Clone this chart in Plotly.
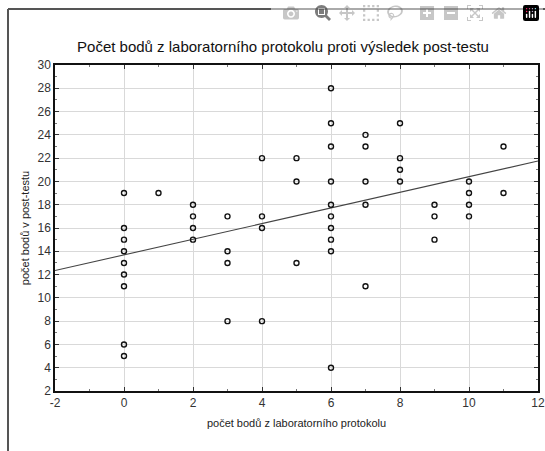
import plotly.graph_objects as go

# Data: lab protocol points (x) vs post-test score (y)
lab_points = [0]*9 + [1] + [2]*4 + [3]*4 + [4]*4 + [5]*3 + [6]*10 + [7]*5 + [8]*4 + [9]*3 + [10]*4 + [11]*2
post_test = ([19, 16, 15, 14, 13, 12, 11, 6, 5] + [19] + [18, 17, 16, 15] + [17, 14, 13, 8]
             + [22, 17, 16, 8] + [22, 20, 13] + [28, 25, 23, 20, 18, 17, 16, 15, 14, 4]
             + [24, 23, 20, 18, 11] + [25, 22, 21, 20] + [18, 17, 15] + [20, 19, 18, 17] + [23, 19])

# Fitted regression line
fit_intercept = 13.69
fit_slope = 0.672
x_range = [-2, 12]
y_range = [2, 30]
x_ticks = [-2, 0, 2, 4, 6, 8, 10, 12]
x_tick_labels = ["-2", "0", "2", "4", "6", "8", "10", "12"]
y_ticks = [2, 4, 6, 8, 10, 12, 14, 16, 18, 20, 22, 24, 26, 28, 30]
y_tick_labels = [str(v) for v in y_ticks]

title_text = "Počet bodů z laboratorního protokolu proti výsledek post-testu"
x_title = "počet bodů z laboratorního protokolu"
y_title = "počet bodů v post-testu"

W, H = 545, 451
ml, mr, mt, mb = 55, 7, 65, 60
pw, ph = W - ml - mr, H - mt - mb
FONT = "Liberation Sans, Arial, sans-serif"

fig = go.Figure()
fig.add_trace(go.Scatter(
    x=x_range, y=[fit_intercept + fit_slope * v for v in x_range],
    mode="lines", line=dict(color="#444444", width=1.1), showlegend=False, hoverinfo="skip"))
fig.add_trace(go.Scatter(
    x=lab_points, y=post_test, mode="markers",
    marker=dict(symbol="circle-open", size=5, color="#111111", line=dict(width=1.4, color="#111111")),
    showlegend=False))

axis_common = dict(
    showgrid=True, gridcolor="#d9d9d9", gridwidth=1, automargin=False,
    zeroline=False, showline=True, linecolor="#111111", linewidth=1.5, mirror="ticks",
    ticks="inside", ticklen=4, tickcolor="#333333", tickwidth=1,
    ticklabeloverflow="allow",
    tickfont=dict(family=FONT, size=12, color="#333333"),
    minor=dict(ticks="inside", ticklen=2, tickcolor="#777777", dtick=1, showgrid=False),
)

fig.update_xaxes(range=x_range, tickmode="array", tickvals=x_ticks, ticktext=x_tick_labels,
                 **axis_common,
                 title=dict(text=x_title, standoff=10, font=dict(family=FONT, size=11, color="#222222")))
fig.update_yaxes(range=y_range, tickmode="array", tickvals=y_ticks, ticktext=y_tick_labels,
                 **axis_common,
                 title=dict(text=y_title, standoff=6, font=dict(family=FONT, size=11, color="#222222")))

frame_x = (8 - ml) / pw
frame_top = (H - mb - 9) / ph
frame_line = dict(color="#555555", width=2)

fig.update_layout(
    width=W, height=H,
    margin=dict(l=ml, r=mr, t=mt, b=mb, autoexpand=False),
    paper_bgcolor="white", plot_bgcolor="white",
    title=dict(text=title_text, xref="container", x=283 / W, xanchor="center",
               yref="container", y=1 - 47 / H, yanchor="middle",
               font=dict(family=FONT, size=15, color="#111111")),
    shapes=[
        dict(type="line", xref="paper", yref="paper", x0=frame_x, x1=1.1,
             y0=frame_top, y1=frame_top, line=frame_line, layer="above"),
        dict(type="line", xref="paper", yref="paper", x0=frame_x, x1=frame_x,
             y0=-0.3, y1=frame_top, line=frame_line, layer="above"),
    ],
)

# remove the browser's default 8px body margin so the figure fills the window
fig.write_html("out.html",
               post_script="document.body.style.margin='0';document.body.style.overflow='hidden';")
